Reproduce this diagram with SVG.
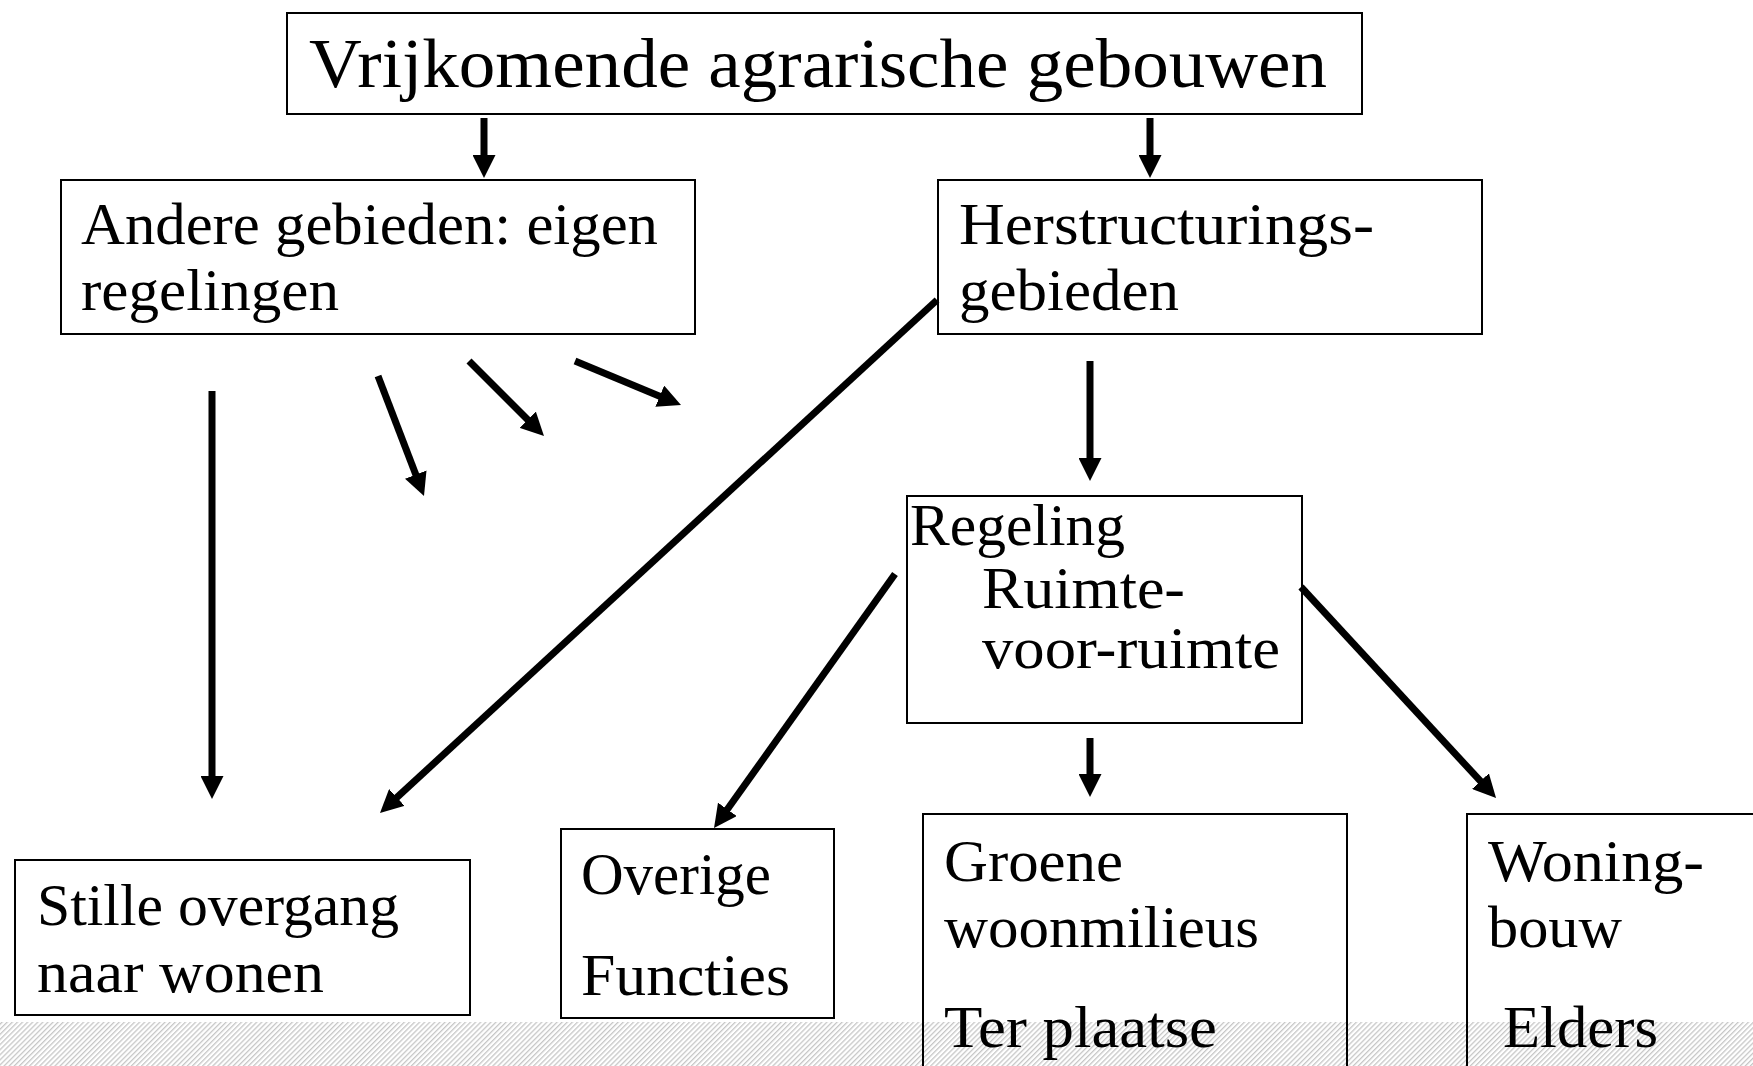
<svg xmlns="http://www.w3.org/2000/svg" width="1753" height="1066" viewBox="0 0 1753 1066">
<style>
.box{fill:none;stroke:#000;stroke-width:2}
.t{font-family:"Liberation Serif","Times New Roman",serif;font-size:60px;fill:#000}
.title{font-size:70px}
.c{stroke:#000;stroke-width:7;fill:none;marker-end:url(#ah)}
</style>
<defs>
<marker id="ah" markerUnits="userSpaceOnUse" markerWidth="23" markerHeight="23" viewBox="0 0 23 23" refX="11" refY="11.5" orient="auto">
<path d="M0,0 L23,11.5 L0,23 Z" fill="#000"/>
</marker>
<pattern id="hatch" patternUnits="userSpaceOnUse" width="3.6" height="10" patternTransform="rotate(45)">
<rect x="0" y="0" width="1.3" height="10" fill="#c6c6c6"/>
</pattern>
</defs>
<rect x="0" y="0" width="1753" height="1066" fill="#fff"/>
<rect x="0" y="1022" width="1753" height="44" fill="url(#hatch)"/>

<g id="connectors">
<line class="c" x1="484" y1="118" x2="484" y2="166"/>
<line class="c" x1="1150" y1="118" x2="1150" y2="166"/>
<line class="c" x1="212" y1="391" x2="212" y2="787"/>
<line class="c" x1="378" y1="376" x2="419.7" y2="484.8"/>
<line class="c" x1="469" y1="361" x2="535.5" y2="427.5"/>
<line class="c" x1="575" y1="361" x2="669.9" y2="400.4"/>
<line class="c" x1="937" y1="300" x2="388.8" y2="804.9"/>
<line class="c" x1="1090" y1="361" x2="1090" y2="469"/>
<line class="c" x1="895" y1="574" x2="721" y2="818.3"/>
<line class="c" x1="1090" y1="738" x2="1090" y2="785"/>
<line class="c" x1="1301" y1="587" x2="1487.9" y2="789.2"/>
</g>

<g id="n-top">
<rect class="box" x="287" y="13" width="1075" height="101"/>
<text class="t title" x="309" y="87" textLength="1018" lengthAdjust="spacingAndGlyphs">Vrijkomende agrarische gebouwen</text>
</g>
<g id="n-andere">
<rect class="box" x="61" y="180" width="634" height="154"/>
<text class="t" x="81" y="244" textLength="577" lengthAdjust="spacingAndGlyphs">Andere gebieden: eigen</text>
<text class="t" x="81" y="310" textLength="258" lengthAdjust="spacingAndGlyphs">regelingen</text>
</g>
<g id="n-herstructurering">
<rect class="box" x="938" y="180" width="544" height="154"/>
<text class="t" x="959" y="244" textLength="415" lengthAdjust="spacingAndGlyphs">Herstructurings-</text>
<text class="t" x="959" y="310" textLength="220" lengthAdjust="spacingAndGlyphs">gebieden</text>
</g>
<g id="n-regeling">
<rect class="box" x="907" y="496" width="395" height="227"/>
<text class="t" x="910" y="545" textLength="215" lengthAdjust="spacingAndGlyphs">Regeling</text>
<text class="t" x="982" y="608" textLength="203" lengthAdjust="spacingAndGlyphs">Ruimte-</text>
<text class="t" x="982" y="668" textLength="298" lengthAdjust="spacingAndGlyphs">voor-ruimte</text>
</g>
<g id="n-stille">
<rect class="box" x="15" y="860" width="455" height="155"/>
<text class="t" x="37" y="925" textLength="362" lengthAdjust="spacingAndGlyphs">Stille overgang</text>
<text class="t" x="37" y="992" textLength="287" lengthAdjust="spacingAndGlyphs">naar wonen</text>
</g>
<g id="n-overige">
<rect class="box" x="561" y="829" width="273" height="189"/>
<text class="t" x="581" y="894" textLength="190" lengthAdjust="spacingAndGlyphs">Overige</text>
<text class="t" x="581" y="995" textLength="209" lengthAdjust="spacingAndGlyphs">Functies</text>
</g>
<g id="n-groene">
<rect class="box" x="923" y="814" width="424" height="300"/>
<text class="t" x="944" y="881" textLength="179" lengthAdjust="spacingAndGlyphs">Groene</text>
<text class="t" x="944" y="947" textLength="315" lengthAdjust="spacingAndGlyphs">woonmilieus</text>
<text class="t" x="944" y="1047" textLength="273" lengthAdjust="spacingAndGlyphs">Ter plaatse</text>
</g>
<g id="n-woning">
<rect class="box" x="1467" y="814" width="400" height="300"/>
<text class="t" x="1488" y="881" textLength="216" lengthAdjust="spacingAndGlyphs">Woning-</text>
<text class="t" x="1488" y="947" textLength="134" lengthAdjust="spacingAndGlyphs">bouw</text>
<text class="t" x="1503" y="1047" textLength="155" lengthAdjust="spacingAndGlyphs">Elders</text>
</g>
</svg>
